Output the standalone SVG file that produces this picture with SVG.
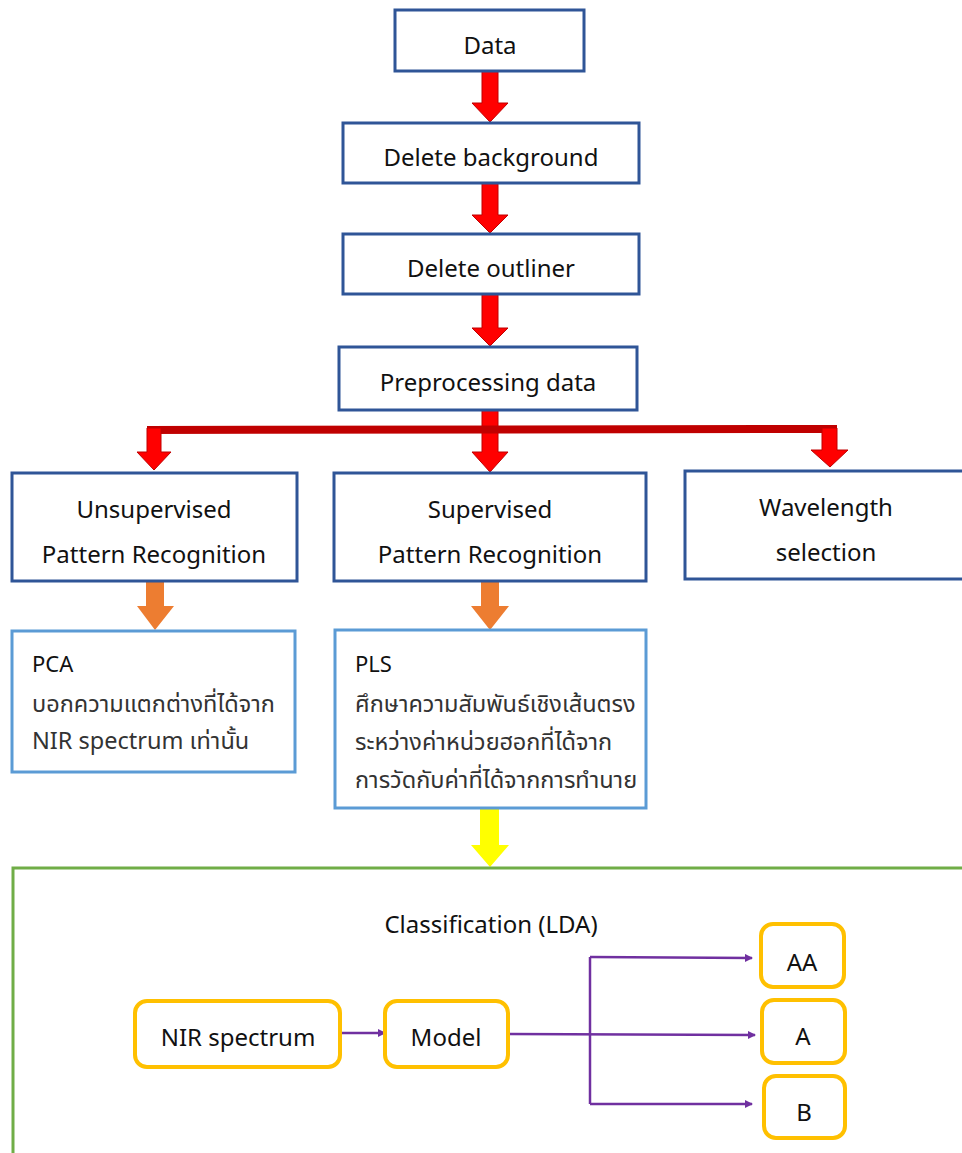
<svg xmlns="http://www.w3.org/2000/svg" width="962" height="1153" viewBox="0 0 962 1153">
<style>
.bx{fill:#fff;stroke:#2F5597;stroke-width:3}
.lb{fill:#fff;stroke:#5B9BD5;stroke-width:3}
.ob{fill:#fff;stroke:#FFC000;stroke-width:4}
.t{font-family:"Noto Sans","Noto Sans Thai","DejaVu Sans",sans-serif;font-size:24px;fill:#111;text-anchor:middle}
.tl{font-family:"Noto Sans","Noto Sans Thai","DejaVu Sans",sans-serif;font-size:23.5px;fill:#333}
.th{font-family:"Noto Sans","Noto Sans Thai","DejaVu Sans",sans-serif;font-size:22px;fill:#111}
.red{fill:#FF0000;stroke:#C00000;stroke-width:1}
.org{fill:#ED7D31}
.pl{stroke:#7030A0;stroke-width:2.5;fill:none}
</style>
<defs>
<marker id="pa" markerWidth="8" markerHeight="8" refX="7" refY="4" orient="auto" markerUnits="userSpaceOnUse" viewBox="0 0 8 8">
<path d="M0,0 L8,4 L0,8 z" fill="#7030A0"/>
</marker>
</defs>
<g id="connectors">
<polygon class="red" points="482,71 498,71 498,103 508,103 490,122 472,103 482,103"/>
<polygon class="red" points="482,183 498,183 498,215 508,215 490,233 472,215 482,215"/>
<polygon class="red" points="482,294 498,294 498,328 508,328 490,346 472,328 482,328"/>
<polygon class="red" points="482,410 498,410 498,452 508,452 490,472 472,452 482,452"/>
<polygon points="147,426 837,425 837,433 147,434" fill="#C00000"/>
<polygon class="red" points="147,428 161,428 161,452 171,452 154,470 137,452 147,452"/>
<polygon class="red" points="822,428 837,428 837,450 848,450 830,467 811,450 822,450"/>
<polygon class="org" points="146,582 164,582 164,606 174,606 155,630 137,606 146,606"/>
<polygon class="org" points="481,582 499,582 499,606 509,606 490,630 471,606 481,606"/>
<polygon points="480,808 499,808 499,845 509,845 490,867 471,845 480,845" fill="#FFFF00"/>
<line class="pl" x1="340" y1="1033" x2="385" y2="1033" marker-end="url(#pa)"/>
<line class="pl" x1="508" y1="1034" x2="755" y2="1035" marker-end="url(#pa)"/>
<line class="pl" x1="590" y1="957" x2="590" y2="1104"/>
<line class="pl" x1="590" y1="957" x2="752" y2="958" marker-end="url(#pa)"/>
<line class="pl" x1="590" y1="1104" x2="752" y2="1104" marker-end="url(#pa)"/>
</g>
<g id="data"><rect class="bx" x="395" y="10" width="189" height="61"/><text class="t" x="490" y="54">Data</text></g>
<g id="delete-background"><rect class="bx" x="343" y="123" width="296" height="60"/><text class="t" x="491" y="166">Delete background</text></g>
<g id="delete-outliner"><rect class="bx" x="343" y="234" width="296" height="60"/><text class="t" x="491" y="277">Delete outliner</text></g>
<g id="preprocessing"><rect class="bx" x="339" y="347" width="298" height="63"/><text class="t" x="488" y="391">Preprocessing data</text></g>
<g id="unsupervised"><rect class="bx" x="12" y="473" width="285" height="108"/><text class="t" x="154" y="518">Unsupervised</text><text class="t" x="154" y="563">Pattern Recognition</text></g>
<g id="supervised"><rect class="bx" x="334" y="473" width="312" height="108"/><text class="t" x="490" y="518">Supervised</text><text class="t" x="490" y="563">Pattern Recognition</text></g>
<g id="wavelength"><rect class="bx" x="685" y="471" width="290" height="108"/><text class="t" x="826" y="516">Wavelength</text><text class="t" x="826" y="561">selection</text></g>
<g id="pca"><rect class="lb" x="12" y="631" width="283" height="141"/><text class="th" x="32" y="672">PCA</text><text class="tl" x="32" y="712">บอกความแตกต่างที่ได้จาก</text><text class="tl" x="32" y="749">NIR spectrum เท่านั้น</text></g>
<g id="pls"><rect class="lb" x="335" y="630" width="311" height="178"/><text class="th" x="355" y="672">PLS</text><text class="tl" x="355" y="712">ศึกษาความสัมพันธ์เชิงเส้นตรง</text><text class="tl" x="355" y="750">ระหว่างค่าหน่วยฮอกที่ได้จาก</text><text class="tl" x="355" y="788">การวัดกับค่าที่ได้จากการทำนาย</text></g>
<g id="classification"><path d="M13,1160 L13,868 L970,868" fill="none" stroke="#70AD47" stroke-width="3"/><text class="t" x="491" y="933">Classification (LDA)</text></g>
<g id="nir"><rect class="ob" x="135" y="1001" width="205" height="66" rx="12"/><text class="t" x="238" y="1046">NIR spectrum</text></g>
<g id="model"><rect class="ob" x="385" y="1001" width="123" height="66" rx="12"/><text class="t" x="446" y="1046">Model</text></g>
<g id="aa"><rect class="ob" x="761" y="924" width="83" height="63" rx="12"/><text class="t" x="802" y="971">AA</text></g>
<g id="a"><rect class="ob" x="762" y="1000" width="83" height="63" rx="12"/><text class="t" x="803" y="1045">A</text></g>
<g id="b"><rect class="ob" x="764" y="1076" width="81" height="62" rx="12"/><text class="t" x="804" y="1121">B</text></g>
</svg>
